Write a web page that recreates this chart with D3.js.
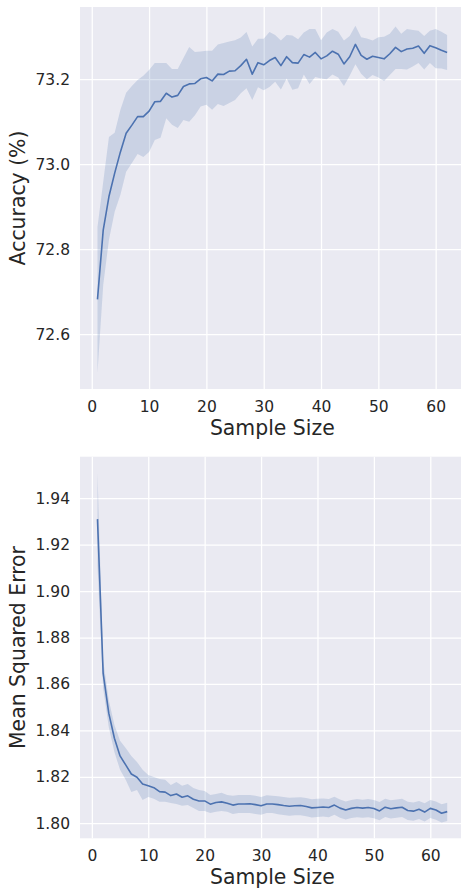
<!DOCTYPE html>
<html>
<head>
<meta charset="utf-8">
<script src="https://cdn.jsdelivr.net/npm/d3@7"></script>
<style>
  html, body { margin: 0; padding: 0; background: #ffffff; }
  svg { display: block; font-family: "DejaVu Sans", sans-serif; }
</style>
</head>
<body>
<svg id="chart" width="461" height="888"></svg>
<script>
// ---------- data ----------
const xTicks = [0, 10, 20, 30, 40, 50, 60];
const accTicks = [72.6, 72.8, 73.0, 73.2];
const mseTicks = [1.80, 1.82, 1.84, 1.86, 1.88, 1.90, 1.92, 1.94];

// Accuracy (%) for sample size 1..62
const accMean = [
  72.682, 72.845, 72.924, 72.979, 73.029, 73.073, 73.092, 73.112, 73.112, 73.125,
  73.147, 73.148, 73.167, 73.158, 73.162, 73.183, 73.189, 73.190, 73.201, 73.204,
  73.196, 73.212, 73.211, 73.219, 73.220, 73.232, 73.247, 73.212, 73.239, 73.234,
  73.244, 73.251, 73.232, 73.253, 73.239, 73.238, 73.258, 73.252, 73.263, 73.248,
  73.255, 73.266, 73.259, 73.236, 73.253, 73.282, 73.256, 73.247, 73.254, 73.251,
  73.248, 73.260, 73.275, 73.265, 73.271, 73.273, 73.278, 73.261, 73.279, 73.274,
  73.268, 73.263
];
const accUpper = [
  72.852, 72.958, 73.064, 73.074, 73.128, 73.168, 73.184, 73.198, 73.208, 73.222,
  73.238, 73.238, 73.238, 73.224, 73.224, 73.250, 73.276, 73.264, 73.265, 73.267,
  73.267, 73.282, 73.285, 73.289, 73.292, 73.298, 73.311, 73.277, 73.295, 73.295,
  73.311, 73.304, 73.291, 73.304, 73.303, 73.294, 73.310, 73.318, 73.318, 73.292,
  73.310, 73.318, 73.312, 73.291, 73.302, 73.326, 73.299, 73.296, 73.291, 73.299,
  73.300, 73.307, 73.324, 73.307, 73.318, 73.316, 73.314, 73.302, 73.314, 73.318,
  73.312, 73.304
];
const accLower = [
  72.509, 72.716, 72.822, 72.888, 72.928, 72.982, 73.003, 73.024, 73.017, 73.029,
  73.057, 73.062, 73.108, 73.093, 73.085, 73.104, 73.100, 73.115, 73.136, 73.140,
  73.128, 73.142, 73.137, 73.144, 73.151, 73.167, 73.179, 73.151, 73.181, 73.174,
  73.182, 73.194, 73.176, 73.202, 73.175, 73.179, 73.211, 73.189, 73.205, 73.202,
  73.200, 73.211, 73.204, 73.184, 73.208, 73.235, 73.213, 73.200, 73.210, 73.204,
  73.196, 73.210, 73.224, 73.224, 73.223, 73.230, 73.238, 73.223, 73.238, 73.226,
  73.225, 73.222
];

// Mean squared error for sample size 1..63
const mseMean = [
  1.9310, 1.8647, 1.8474, 1.8366, 1.8290, 1.8251, 1.8212, 1.8198, 1.8169, 1.8161,
  1.8153, 1.8136, 1.8134, 1.8119, 1.8126, 1.8112, 1.8118, 1.8103, 1.8096, 1.8096,
  1.8082, 1.8089, 1.8092, 1.8086, 1.8078, 1.8083, 1.8083, 1.8084, 1.8080, 1.8075,
  1.8083, 1.8083, 1.8080, 1.8076, 1.8073, 1.8075, 1.8076, 1.8072, 1.8066, 1.8068,
  1.8070, 1.8068, 1.8078, 1.8065, 1.8057, 1.8064, 1.8068, 1.8065, 1.8068, 1.8063,
  1.8053, 1.8069, 1.8062, 1.8066, 1.8069, 1.8055, 1.8052, 1.8060, 1.8048, 1.8064,
  1.8057, 1.8043, 1.8050
];
const mseUpper = [
  1.9509, 1.8703, 1.8531, 1.8423, 1.8355, 1.8324, 1.8290, 1.8264, 1.8230, 1.8208,
  1.8199, 1.8191, 1.8187, 1.8165, 1.8178, 1.8161, 1.8169, 1.8152, 1.8143, 1.8139,
  1.8122, 1.8126, 1.8131, 1.8122, 1.8118, 1.8122, 1.8122, 1.8122, 1.8118, 1.8113,
  1.8120, 1.8118, 1.8116, 1.8113, 1.8110, 1.8111, 1.8112, 1.8109, 1.8103, 1.8105,
  1.8107, 1.8104, 1.8114, 1.8102, 1.8094, 1.8100, 1.8104, 1.8101, 1.8104, 1.8100,
  1.8091, 1.8105, 1.8099, 1.8102, 1.8105, 1.8092, 1.8089, 1.8096, 1.8086, 1.8100,
  1.8094, 1.8082, 1.8088
];
const mseLower = [
  1.9110, 1.8583, 1.8415, 1.8307, 1.8230, 1.8187, 1.8135, 1.8143, 1.8100, 1.8113,
  1.8105, 1.8092, 1.8092, 1.8087, 1.8083, 1.8075, 1.8079, 1.8066, 1.8053, 1.8053,
  1.8044, 1.8049, 1.8053, 1.8049, 1.8040, 1.8044, 1.8044, 1.8044, 1.8040, 1.8036,
  1.8044, 1.8044, 1.8039, 1.8035, 1.8032, 1.8034, 1.8034, 1.8030, 1.8025, 1.8027,
  1.8029, 1.8026, 1.8036, 1.8023, 1.8016, 1.8022, 1.8026, 1.8023, 1.8026, 1.8021,
  1.8013, 1.8027, 1.8020, 1.8024, 1.8027, 1.8014, 1.8011, 1.8018, 1.8007, 1.8022,
  1.8015, 1.8003, 1.8009
];

// ---------- drawing ----------
const svg = d3.select("#chart");
const LINE = "#4C72B0", BG = "#EAEAF2", TXT = "#262626";

function panel(cfg) {
  const { id, left, right, top, bottom, xDomain, yDomain, yTicks, yFmt,
          mean, lower, upper, ylabel } = cfg;
  const x = d3.scaleLinear().domain(xDomain).range([left, right]);
  const y = d3.scaleLinear().domain(yDomain).range([bottom, top]);
  const rows = mean.map((m, i) => ({ n: i + 1, m, lo: lower[i], hi: upper[i] }));

  svg.append("clipPath").attr("id", id)
    .append("rect").attr("x", left).attr("y", top)
    .attr("width", right - left).attr("height", bottom - top);

  svg.append("rect").attr("x", left).attr("y", top)
    .attr("width", right - left).attr("height", bottom - top).attr("fill", BG);

  const gx = svg.append("g").attr("transform", `translate(0,${bottom})`)
    .call(d3.axisBottom(x).tickValues(xTicks).tickSize(-(bottom - top))
      .tickPadding(12).tickFormat(d3.format("d")));
  const gy = svg.append("g").attr("transform", `translate(${left},0)`)
    .call(d3.axisLeft(y).tickValues(yTicks).tickSize(-(right - left))
      .tickPadding(10).tickFormat(yFmt));
  [gx, gy].forEach(g => {
    g.select(".domain").remove();
    g.selectAll(".tick line").attr("stroke", "#ffffff").attr("stroke-width", 1.25);
    g.selectAll(".tick text").attr("fill", TXT)
      .style("font-family", "DejaVu Sans").style("font-size", "15.5px");
  });

  const plot = svg.append("g").attr("clip-path", `url(#${id})`);
  plot.append("path").datum(rows)
    .attr("d", d3.area().x(d => x(d.n)).y0(d => y(d.lo)).y1(d => y(d.hi)))
    .attr("fill", LINE).attr("fill-opacity", 0.2);
  plot.append("path").datum(rows)
    .attr("d", d3.line().x(d => x(d.n)).y(d => y(d.m)))
    .attr("fill", "none").attr("stroke", LINE).attr("stroke-width", 1.6)
    .attr("stroke-linejoin", "round");

  svg.append("text").attr("x", (left + right) / 2).attr("y", bottom + 46)
    .attr("text-anchor", "middle").attr("fill", TXT)
    .style("font-size", "20.4px").text("Sample Size");
  svg.append("text")
    .attr("transform", `translate(25,${(top + bottom) / 2}) rotate(-90)`)
    .attr("text-anchor", "middle").attr("fill", TXT)
    .style("font-size", "20.4px").text(ylabel);
}

panel({
  id: "clipAcc", left: 80, right: 464.6, top: 7, bottom: 389,
  xDomain: [-2.05, 65.05], yDomain: [72.471, 73.370], yTicks: accTicks,
  yFmt: d3.format(".1f"), mean: accMean, lower: accLower, upper: accUpper,
  ylabel: "Accuracy (%)"
});
panel({
  id: "clipMse", left: 80, right: 464.7, top: 456.7, bottom: 838.3,
  xDomain: [-2.1, 66.1], yDomain: [1.7935, 1.9579], yTicks: mseTicks,
  yFmt: d3.format(".2f"), mean: mseMean, lower: mseLower, upper: mseUpper,
  ylabel: "Mean Squared Error"
});
</script>
</body>
</html>
